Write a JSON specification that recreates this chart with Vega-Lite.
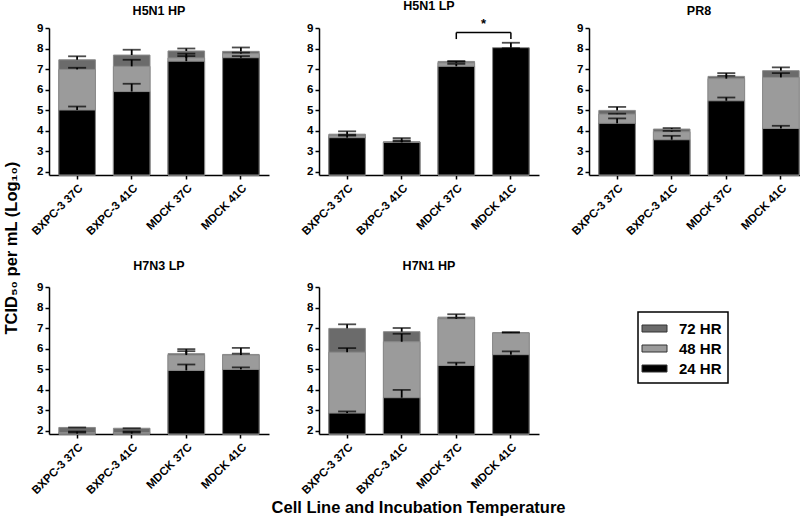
{
  "$schema": "https://vega.github.io/schema/vega-lite/v6.json",
  "padding": {"left": 4, "top": 0, "right": 0, "bottom": 2},
  "background": "white",
  "datasets": {
    "titer": [
      {"virus": "H5N1 HP", "cell": "BXPC-3 37C", "time": "72 HR", "value": 7.45, "upper": 7.62},
      {"virus": "H5N1 HP", "cell": "BXPC-3 37C", "time": "48 HR", "value": 6.98, "upper": 7.06},
      {"virus": "H5N1 HP", "cell": "BXPC-3 37C", "time": "24 HR", "value": 5.00, "upper": 5.17},
      {"virus": "H5N1 HP", "cell": "BXPC-3 41C", "time": "72 HR", "value": 7.68, "upper": 7.94},
      {"virus": "H5N1 HP", "cell": "BXPC-3 41C", "time": "48 HR", "value": 7.13, "upper": 7.45},
      {"virus": "H5N1 HP", "cell": "BXPC-3 41C", "time": "24 HR", "value": 5.90, "upper": 6.28},
      {"virus": "H5N1 HP", "cell": "MDCK 37C", "time": "72 HR", "value": 7.88, "upper": 8.00},
      {"virus": "H5N1 HP", "cell": "MDCK 37C", "time": "48 HR", "value": 7.54, "upper": 7.75},
      {"virus": "H5N1 HP", "cell": "MDCK 37C", "time": "24 HR", "value": 7.38, "upper": 7.63},
      {"virus": "H5N1 HP", "cell": "MDCK 41C", "time": "72 HR", "value": 7.86, "upper": 8.05},
      {"virus": "H5N1 HP", "cell": "MDCK 41C", "time": "48 HR", "value": 7.75, "upper": 7.80},
      {"virus": "H5N1 HP", "cell": "MDCK 41C", "time": "24 HR", "value": 7.55, "upper": 7.63},

      {"virus": "H5N1 LP", "cell": "BXPC-3 37C", "time": "72 HR", "value": 3.82, "upper": 3.96},
      {"virus": "H5N1 LP", "cell": "BXPC-3 37C", "time": "48 HR", "value": 3.75, "upper": 3.80},
      {"virus": "H5N1 LP", "cell": "BXPC-3 37C", "time": "24 HR", "value": 3.65, "upper": 3.75},
      {"virus": "H5N1 LP", "cell": "BXPC-3 41C", "time": "72 HR", "value": 3.45, "upper": 3.63},
      {"virus": "H5N1 LP", "cell": "BXPC-3 41C", "time": "48 HR", "value": 3.44, "upper": 3.52},
      {"virus": "H5N1 LP", "cell": "BXPC-3 41C", "time": "24 HR", "value": 3.42, "upper": 3.47},
      {"virus": "H5N1 LP", "cell": "MDCK 37C", "time": "72 HR", "value": 7.37, "upper": 7.39},
      {"virus": "H5N1 LP", "cell": "MDCK 37C", "time": "48 HR", "value": 7.30, "upper": 7.35},
      {"virus": "H5N1 LP", "cell": "MDCK 37C", "time": "24 HR", "value": 7.13, "upper": 7.25},
      {"virus": "H5N1 LP", "cell": "MDCK 41C", "time": "72 HR", "value": 8.00, "upper": 8.00},
      {"virus": "H5N1 LP", "cell": "MDCK 41C", "time": "48 HR", "value": 8.00, "upper": 8.00},
      {"virus": "H5N1 LP", "cell": "MDCK 41C", "time": "24 HR", "value": 8.04, "upper": 8.28},

      {"virus": "PR8", "cell": "BXPC-3 37C", "time": "72 HR", "value": 4.98, "upper": 5.15},
      {"virus": "PR8", "cell": "BXPC-3 37C", "time": "48 HR", "value": 4.80, "upper": 4.82},
      {"virus": "PR8", "cell": "BXPC-3 37C", "time": "24 HR", "value": 4.35, "upper": 4.59},
      {"virus": "PR8", "cell": "BXPC-3 41C", "time": "72 HR", "value": 4.07, "upper": 4.12},
      {"virus": "PR8", "cell": "BXPC-3 41C", "time": "48 HR", "value": 3.94, "upper": 3.98},
      {"virus": "PR8", "cell": "BXPC-3 41C", "time": "24 HR", "value": 3.55, "upper": 3.74},
      {"virus": "PR8", "cell": "MDCK 37C", "time": "72 HR", "value": 6.64, "upper": 6.80},
      {"virus": "PR8", "cell": "MDCK 37C", "time": "48 HR", "value": 6.53, "upper": 6.67},
      {"virus": "PR8", "cell": "MDCK 37C", "time": "24 HR", "value": 5.45, "upper": 5.61},
      {"virus": "PR8", "cell": "MDCK 41C", "time": "72 HR", "value": 6.92, "upper": 7.08},
      {"virus": "PR8", "cell": "MDCK 41C", "time": "48 HR", "value": 6.59, "upper": 6.80},
      {"virus": "PR8", "cell": "MDCK 41C", "time": "24 HR", "value": 4.10, "upper": 4.23},

      {"virus": "H7N3 LP", "cell": "BXPC-3 37C", "time": "72 HR", "value": 2.15, "upper": 2.15},
      {"virus": "H7N3 LP", "cell": "BXPC-3 37C", "time": "48 HR", "value": 1.90, "upper": 1.90},
      {"virus": "H7N3 LP", "cell": "BXPC-3 37C", "time": "24 HR", "value": 1.85, "upper": 1.95},
      {"virus": "H7N3 LP", "cell": "BXPC-3 41C", "time": "72 HR", "value": 2.11, "upper": 2.11},
      {"virus": "H7N3 LP", "cell": "BXPC-3 41C", "time": "48 HR", "value": 1.90, "upper": 1.90},
      {"virus": "H7N3 LP", "cell": "BXPC-3 41C", "time": "24 HR", "value": 1.85, "upper": 1.95},
      {"virus": "H7N3 LP", "cell": "MDCK 37C", "time": "72 HR", "value": 5.75, "upper": 5.97},
      {"virus": "H7N3 LP", "cell": "MDCK 37C", "time": "48 HR", "value": 5.68, "upper": 5.87},
      {"virus": "H7N3 LP", "cell": "MDCK 37C", "time": "24 HR", "value": 4.93, "upper": 5.22},
      {"virus": "H7N3 LP", "cell": "MDCK 41C", "time": "72 HR", "value": 5.71, "upper": 6.03},
      {"virus": "H7N3 LP", "cell": "MDCK 41C", "time": "48 HR", "value": 5.68, "upper": 5.75},
      {"virus": "H7N3 LP", "cell": "MDCK 41C", "time": "24 HR", "value": 4.98, "upper": 5.08},

      {"virus": "H7N1 HP", "cell": "BXPC-3 37C", "time": "72 HR", "value": 6.98, "upper": 7.18},
      {"virus": "H7N1 HP", "cell": "BXPC-3 37C", "time": "48 HR", "value": 5.82, "upper": 6.02},
      {"virus": "H7N1 HP", "cell": "BXPC-3 37C", "time": "24 HR", "value": 2.85, "upper": 2.93},
      {"virus": "H7N1 HP", "cell": "BXPC-3 41C", "time": "72 HR", "value": 6.82, "upper": 7.00},
      {"virus": "H7N1 HP", "cell": "BXPC-3 41C", "time": "48 HR", "value": 6.33, "upper": 6.72},
      {"virus": "H7N1 HP", "cell": "BXPC-3 41C", "time": "24 HR", "value": 3.60, "upper": 3.98},
      {"virus": "H7N1 HP", "cell": "MDCK 37C", "time": "72 HR", "value": 7.53, "upper": 7.67},
      {"virus": "H7N1 HP", "cell": "MDCK 37C", "time": "48 HR", "value": 7.45, "upper": 7.50},
      {"virus": "H7N1 HP", "cell": "MDCK 37C", "time": "24 HR", "value": 5.17, "upper": 5.31},
      {"virus": "H7N1 HP", "cell": "MDCK 41C", "time": "72 HR", "value": 6.77, "upper": 6.79},
      {"virus": "H7N1 HP", "cell": "MDCK 41C", "time": "48 HR", "value": 6.76, "upper": 6.78},
      {"virus": "H7N1 HP", "cell": "MDCK 41C", "time": "24 HR", "value": 5.70, "upper": 5.86}
    ],
    "bracket": [
      {"cell": "MDCK 37C", "cell2": "MDCK 41C", "y": 8.78, "ylow": 8.46, "label": "*"}
    ],
    "legs": [
      {"cell": "MDCK 37C", "y": 8.78, "ylow": 8.46},
      {"cell": "MDCK 41C", "y": 8.78, "ylow": 8.46}
    ]
  },
  "title": {
    "text": "Cell Line and Incubation Temperature",
    "orient": "bottom",
    "anchor": "middle",
    "fontSize": 16.5,
    "fontWeight": "bold",
    "font": "Liberation Sans",
    "color": "black",
    "offset": 4,
    "dx": 12
  },
  "hconcat": [
    {
      "title": {
        "text": "TCID₅₀ per mL (Log₁₀)",
        "orient": "left",
        "anchor": "middle",
        "fontSize": 16.5,
        "fontWeight": "bold",
        "font": "Liberation Sans",
        "color": "black",
        "offset": 9
      },
      "spacing": 21,
      "vconcat": [
        {
          "hconcat": [
            {
              "title": {"text": "H5N1 HP", "offset": 5},
              "width": 220, "height": 147,
              "transform": [{"filter": "datum.virus === 'H5N1 HP'"}],
              "data": {"name": "titer"},
              "layer": [
                {"mark": {"type": "bar", "stroke": "#8a8a8a", "strokeWidth": 1},
                 "encoding": {
                   "x": {"field": "cell", "type": "nominal", "scale": {"domain": ["BXPC-3 37C", "BXPC-3 41C", "MDCK 37C", "MDCK 41C"], "paddingInner": 0.33, "paddingOuter": 0.18}, "axis": {"title": null}},
                   "y": {"field": "value", "type": "quantitative", "stack": null, "scale": {"domain": [1.83, 9], "zero": false, "nice": false}, "axis": {"title": null, "values": [2, 3, 4, 5, 6, 7, 8, 9]}},
                   "color": {"field": "time", "type": "nominal", "scale": {"domain": ["72 HR", "48 HR", "24 HR"], "range": ["#6b6b6b", "#9b9b9b", "#000000"]}, "legend": {"title": null}}
                 }},
                {"mark": {"type": "rule", "color": "black", "strokeWidth": 1.8},
                 "encoding": {"x": {"field": "cell", "type": "nominal", "axis": {"title": null}}, "y": {"field": "value", "type": "quantitative", "axis": {"title": null, "values": [2, 3, 4, 5, 6, 7, 8, 9]}}, "y2": {"field": "upper"}}},
                {"mark": {"type": "tick", "color": "black", "thickness": 1.8, "size": 18},
                 "encoding": {"x": {"field": "cell", "type": "nominal", "axis": {"title": null}}, "y": {"field": "upper", "type": "quantitative", "axis": {"title": null, "values": [2, 3, 4, 5, 6, 7, 8, 9]}}}}
              ]
            },
            {
              "title": {"text": "H5N1 LP", "offset": 5},
              "width": 220, "height": 147,
              "layer": [
                {"data": {"name": "titer"}, "transform": [{"filter": "datum.virus === 'H5N1 LP'"}],
                 "mark": {"type": "bar", "stroke": "#8a8a8a", "strokeWidth": 1},
                 "encoding": {
                   "x": {"field": "cell", "type": "nominal", "scale": {"domain": ["BXPC-3 37C", "BXPC-3 41C", "MDCK 37C", "MDCK 41C"], "paddingInner": 0.33, "paddingOuter": 0.18}, "axis": {"title": null}},
                   "y": {"field": "value", "type": "quantitative", "stack": null, "scale": {"domain": [1.83, 9], "zero": false, "nice": false}, "axis": {"title": null, "values": [2, 3, 4, 5, 6, 7, 8, 9]}},
                   "color": {"field": "time", "type": "nominal", "scale": {"domain": ["72 HR", "48 HR", "24 HR"], "range": ["#6b6b6b", "#9b9b9b", "#000000"]}, "legend": {"title": null}}
                 }},
                {"data": {"name": "titer"}, "transform": [{"filter": "datum.virus === 'H5N1 LP'"}],
                 "mark": {"type": "rule", "color": "black", "strokeWidth": 1.8},
                 "encoding": {"x": {"field": "cell", "type": "nominal", "axis": {"title": null}}, "y": {"field": "value", "type": "quantitative", "axis": {"title": null, "values": [2, 3, 4, 5, 6, 7, 8, 9]}}, "y2": {"field": "upper"}}},
                {"data": {"name": "titer"}, "transform": [{"filter": "datum.virus === 'H5N1 LP'"}],
                 "mark": {"type": "tick", "color": "black", "thickness": 1.8, "size": 18},
                 "encoding": {"x": {"field": "cell", "type": "nominal", "axis": {"title": null}}, "y": {"field": "upper", "type": "quantitative", "axis": {"title": null, "values": [2, 3, 4, 5, 6, 7, 8, 9]}}}},
                {"data": {"name": "bracket"},
                 "mark": {"type": "rule", "color": "black", "strokeWidth": 1.5},
                 "encoding": {"x": {"field": "cell", "type": "nominal", "bandPosition": 0.5, "axis": {"title": null}}, "x2": {"field": "cell2", "bandPosition": 0.5}, "y": {"field": "y", "type": "quantitative", "axis": {"title": null, "values": [2, 3, 4, 5, 6, 7, 8, 9]}}}},
                {"data": {"name": "legs"},
                 "mark": {"type": "rule", "color": "black", "strokeWidth": 1.5},
                 "encoding": {"x": {"field": "cell", "type": "nominal", "axis": {"title": null}}, "y": {"field": "ylow", "type": "quantitative", "axis": {"title": null, "values": [2, 3, 4, 5, 6, 7, 8, 9]}}, "y2": {"field": "y"}}},
                {"data": {"name": "bracket"},
                 "mark": {"type": "text", "fontSize": 13, "fontWeight": "bold", "font": "Liberation Sans", "baseline": "bottom", "dy": -2},
                 "encoding": {"x": {"field": "cell", "type": "nominal", "bandPosition": 1.246, "axis": {"title": null}}, "y": {"field": "y", "type": "quantitative", "axis": {"title": null, "values": [2, 3, 4, 5, 6, 7, 8, 9]}}, "text": {"field": "label"}}}
              ]
            },
            {
              "title": {"text": "PR8", "offset": 5},
              "width": 220, "height": 147,
              "transform": [{"filter": "datum.virus === 'PR8'"}],
              "data": {"name": "titer"},
              "layer": [
                {"mark": {"type": "bar", "stroke": "#8a8a8a", "strokeWidth": 1},
                 "encoding": {
                   "x": {"field": "cell", "type": "nominal", "scale": {"domain": ["BXPC-3 37C", "BXPC-3 41C", "MDCK 37C", "MDCK 41C"], "paddingInner": 0.33, "paddingOuter": 0.18}, "axis": {"title": null}},
                   "y": {"field": "value", "type": "quantitative", "stack": null, "scale": {"domain": [1.83, 9], "zero": false, "nice": false}, "axis": {"title": null, "values": [2, 3, 4, 5, 6, 7, 8, 9]}},
                   "color": {"field": "time", "type": "nominal", "scale": {"domain": ["72 HR", "48 HR", "24 HR"], "range": ["#6b6b6b", "#9b9b9b", "#000000"]}, "legend": {"title": null}}
                 }},
                {"mark": {"type": "rule", "color": "black", "strokeWidth": 1.8},
                 "encoding": {"x": {"field": "cell", "type": "nominal", "axis": {"title": null}}, "y": {"field": "value", "type": "quantitative", "axis": {"title": null, "values": [2, 3, 4, 5, 6, 7, 8, 9]}}, "y2": {"field": "upper"}}},
                {"mark": {"type": "tick", "color": "black", "thickness": 1.8, "size": 18},
                 "encoding": {"x": {"field": "cell", "type": "nominal", "axis": {"title": null}}, "y": {"field": "upper", "type": "quantitative", "axis": {"title": null, "values": [2, 3, 4, 5, 6, 7, 8, 9]}}}}
              ]
            }
          ]
        },
        {
          "hconcat": [
            {
              "title": {"text": "H7N3 LP", "offset": 9},
              "width": 220, "height": 147,
              "transform": [{"filter": "datum.virus === 'H7N3 LP'"}],
              "data": {"name": "titer"},
              "layer": [
                {"mark": {"type": "bar", "stroke": "#8a8a8a", "strokeWidth": 1},
                 "encoding": {
                   "x": {"field": "cell", "type": "nominal", "scale": {"domain": ["BXPC-3 37C", "BXPC-3 41C", "MDCK 37C", "MDCK 41C"], "paddingInner": 0.33, "paddingOuter": 0.18}, "axis": {"title": null}},
                   "y": {"field": "value", "type": "quantitative", "stack": null, "scale": {"domain": [1.83, 9], "zero": false, "nice": false}, "axis": {"title": null, "values": [2, 3, 4, 5, 6, 7, 8, 9]}},
                   "color": {"field": "time", "type": "nominal", "scale": {"domain": ["72 HR", "48 HR", "24 HR"], "range": ["#6b6b6b", "#9b9b9b", "#000000"]}, "legend": {"title": null}}
                 }},
                {"mark": {"type": "rule", "color": "black", "strokeWidth": 1.8},
                 "encoding": {"x": {"field": "cell", "type": "nominal", "axis": {"title": null}}, "y": {"field": "value", "type": "quantitative", "axis": {"title": null, "values": [2, 3, 4, 5, 6, 7, 8, 9]}}, "y2": {"field": "upper"}}},
                {"mark": {"type": "tick", "color": "black", "thickness": 1.8, "size": 18},
                 "encoding": {"x": {"field": "cell", "type": "nominal", "axis": {"title": null}}, "y": {"field": "upper", "type": "quantitative", "axis": {"title": null, "values": [2, 3, 4, 5, 6, 7, 8, 9]}}}}
              ]
            },
            {
              "title": {"text": "H7N1 HP", "offset": 9},
              "width": 220, "height": 147,
              "transform": [{"filter": "datum.virus === 'H7N1 HP'"}],
              "data": {"name": "titer"},
              "layer": [
                {"mark": {"type": "bar", "stroke": "#8a8a8a", "strokeWidth": 1},
                 "encoding": {
                   "x": {"field": "cell", "type": "nominal", "scale": {"domain": ["BXPC-3 37C", "BXPC-3 41C", "MDCK 37C", "MDCK 41C"], "paddingInner": 0.33, "paddingOuter": 0.18}, "axis": {"title": null}},
                   "y": {"field": "value", "type": "quantitative", "stack": null, "scale": {"domain": [1.83, 9], "zero": false, "nice": false}, "axis": {"title": null, "values": [2, 3, 4, 5, 6, 7, 8, 9]}},
                   "color": {"field": "time", "type": "nominal", "scale": {"domain": ["72 HR", "48 HR", "24 HR"], "range": ["#6b6b6b", "#9b9b9b", "#000000"]}, "legend": {"title": null, "orient": "none", "legendX": 589, "legendY": 284}}
                 }},
                {"mark": {"type": "rule", "color": "black", "strokeWidth": 1.8},
                 "encoding": {"x": {"field": "cell", "type": "nominal", "axis": {"title": null}}, "y": {"field": "value", "type": "quantitative", "axis": {"title": null, "values": [2, 3, 4, 5, 6, 7, 8, 9]}}, "y2": {"field": "upper"}}},
                {"mark": {"type": "tick", "color": "black", "thickness": 1.8, "size": 18},
                 "encoding": {"x": {"field": "cell", "type": "nominal", "axis": {"title": null}}, "y": {"field": "upper", "type": "quantitative", "axis": {"title": null, "values": [2, 3, 4, 5, 6, 7, 8, 9]}}}}
              ]
            }
          ]
        }
      ]
    }
  ],
  "resolve": {"scale": {"color": "shared"}},
  "config": {
    "font": "Liberation Sans",
    "view": {"stroke": null},
    "concat": {"spacing": 30},
    "title": {"fontSize": 12.5, "fontWeight": "bold", "font": "Liberation Sans", "color": "black", "offset": 10},
    "axis": {
      "domainColor": "black", "domainWidth": 1.5,
      "tickColor": "black", "tickWidth": 1.5, "tickSize": 4,
      "labelFont": "Liberation Sans", "labelFontWeight": "bold", "labelColor": "black",
      "grid": false
    },
    "axisX": {"labelAngle": -45, "labelFontSize": 11.5, "labelPadding": 3},
    "axisY": {"labelFontSize": 11.5, "labelPadding": 2, "tickCount": 8, "labelOverlap": false},
    "legend": {
      "orient": "none",
      "strokeColor": "black", "strokeWidth": 1.5, "padding": 6, "fillColor": "white",
      "labelFont": "Liberation Sans", "labelFontSize": 15, "labelFontWeight": "bold", "labelColor": "black",
      "symbolType": "M-1.25,-0.35H1.25V0.35H-1.25Z", "symbolSize": 400,
      "symbolStrokeColor": "#333", "symbolStrokeWidth": 1, "symbolOpacity": 1,
      "rowPadding": 1, "labelOffset": 14
    }
  }
}
